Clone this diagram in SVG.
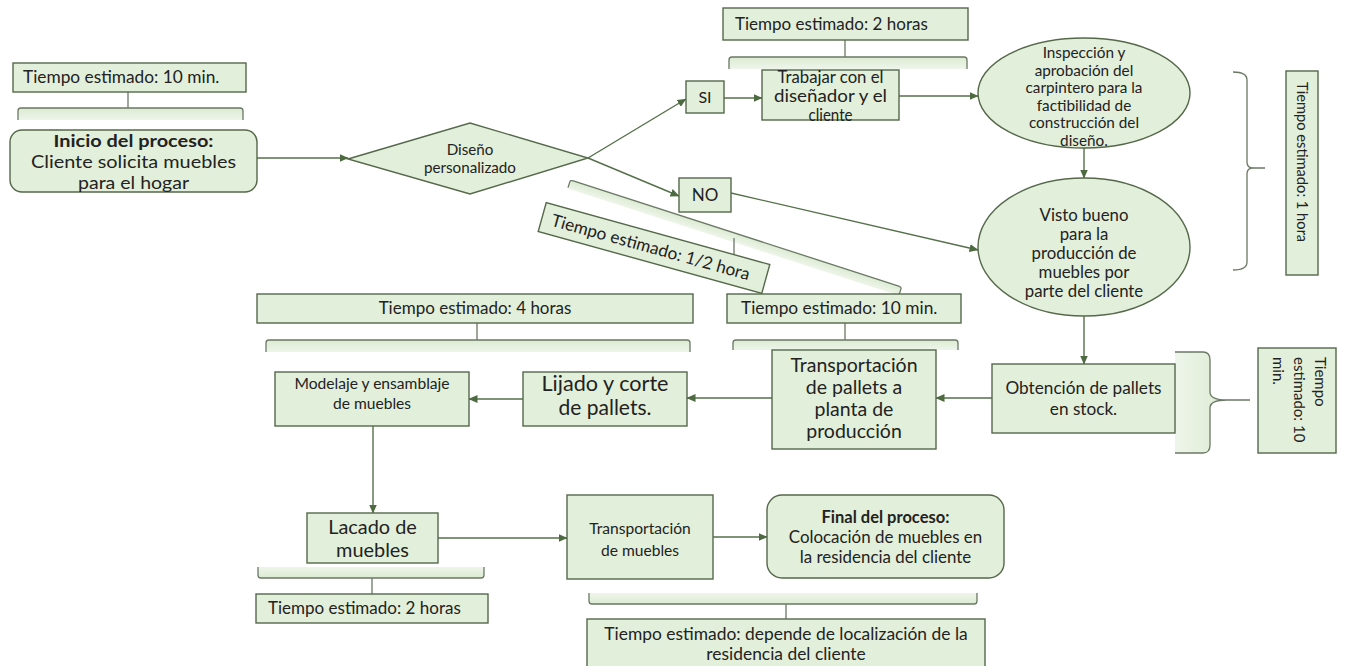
<svg xmlns="http://www.w3.org/2000/svg" width="1347" height="666" viewBox="0 0 1347 666">
<defs>
<marker id="arr" markerWidth="9" markerHeight="8" refX="8.5" refY="4" orient="auto" markerUnits="userSpaceOnUse">
<path d="M0,0 L9,4 L0,8 z" fill="#4e6a40"/>
</marker>
<linearGradient id="gd" x1="0" y1="0" x2="0" y2="1"><stop offset="0" stop-color="#dcebd2"/><stop offset="1" stop-color="#eef5ea"/></linearGradient>
<linearGradient id="gu" x1="0" y1="1" x2="0" y2="0"><stop offset="0" stop-color="#dcebd2"/><stop offset="1" stop-color="#eef5ea"/></linearGradient>
<linearGradient id="gl" x1="1" y1="0" x2="0" y2="0"><stop offset="0" stop-color="#dcebd2"/><stop offset="1" stop-color="#eef5ea"/></linearGradient>
<style>
.box{fill:#e2efda;stroke:#55684a;stroke-width:1.4}
.conn{fill:none;stroke:#55704a;stroke-width:1.4;marker-end:url(#arr)}
.br{fill:none;stroke:#6b7866;stroke-width:1.3}
.t{font-family:Lato,"Open Sans",sans-serif;fill:#222}
.c{text-anchor:middle}
.b{font-weight:bold}
</style>
</defs>

<g id="connectors">
<path class="conn" d="M257,158 L348,158"/>
<path class="conn" d="M588,158 L686,99"/>
<path class="conn" d="M588,158 L679,196"/>
<path class="conn" d="M724,98 L762,98"/>
<path class="conn" d="M899,96 L978,96"/>
<path class="conn" d="M1084,148 L1084,178"/>
<path class="conn" d="M731,193 L978,250"/>
<path class="conn" d="M1084,316 L1084,364"/>
<path class="conn" d="M992,398 L936,398"/>
<path class="conn" d="M772,398 L687,398"/>
<path class="conn" d="M523,399 L469,399"/>
<path class="conn" d="M373,426 L373,513"/>
<path class="conn" d="M438,538 L567,538"/>
<path class="conn" d="M713,537 L767,537"/>
</g>

<g id="brace-start">
<rect x="18" y="108" width="225" height="12" fill="url(#gd)"/>
<path class="br" d="M18,120 L18,111 Q18,108 21,108 L240,108 Q243,108 243,111 L243,120 M128,108 L128,92"/>
</g>
<g id="label-start">
<rect class="box" x="13" y="63" width="233" height="29"/>
<text class="t" x="23" y="83" font-size="17.3">Tiempo estimado: 10 min.</text>
</g>

<g id="brace-2h">
<rect x="729" y="57" width="238" height="12" fill="url(#gd)"/>
<path class="br" d="M729,69 L729,60 Q729,57 732,57 L964,57 Q967,57 967,60 L967,69 M845,57 L845,40"/>
</g>
<g id="label-2h">
<rect class="box" x="723" y="8" width="245" height="32"/>
<text class="t" x="735" y="30" font-size="17">Tiempo estimado: 2 horas</text>
</g>

<g id="brace-1h">
<path class="br" d="M1233,72 Q1247,72 1247,80 L1247,162 Q1247,168 1253,168 L1265,168 M1253,168 Q1247,168 1247,174 L1247,262 Q1247,270 1233,270"/>
</g>
<g id="label-1h">
<rect class="box" x="1286" y="71" width="32" height="204"/>
<text class="t" font-size="14.7" transform="translate(1302,82) rotate(90)" x="0" y="5">Tiempo estimado: 1 hora</text>
</g>

<g id="brace-half">
<g transform="translate(736,233.5) rotate(17.9)">
<rect x="-174" y="0" width="348" height="9" fill="url(#gd)"/>
<path class="br" d="M-174,8 L-174,2 Q-174,0 -171,0 L171,0 Q174,0 174,2 L174,8"/>
</g>
<path class="br" d="M734,238 L734,254"/>
</g>
<g id="label-half">
<g transform="translate(654,248) rotate(15.5)">
<rect class="box" x="-116" y="-15" width="232" height="30"/>
<text class="t" x="-106" y="6" font-size="17.2">Tiempo estimado: 1/2 hora</text>
</g>
</g>

<g id="brace-4h">
<rect x="266" y="340" width="424" height="12" fill="url(#gd)"/>
<path class="br" d="M266,352 L266,343 Q266,340 269,340 L687,340 Q690,340 690,343 L690,352 M477,340 L477,323"/>
</g>
<g id="label-4h">
<rect class="box" x="257" y="294" width="436" height="29"/>
<text class="t c" x="475" y="314" font-size="17">Tiempo estimado: 4 horas</text>
</g>

<g id="brace-10m">
<rect x="733" y="340" width="225" height="10" fill="url(#gd)"/>
<path class="br" d="M733,350 L733,343 Q733,340 736,340 L955,340 Q958,340 958,343 L958,350 M845,340 L845,323"/>
</g>
<g id="label-10m">
<rect class="box" x="727" y="294" width="234" height="29"/>
<text class="t" x="741" y="314" font-size="17.3">Tiempo estimado: 10 min.</text>
</g>

<g id="brace-10m-b">
<path d="M1175,352 L1203,352 Q1210,352 1210,360 L1210,392 Q1210,400 1227,400 Q1210,400 1210,408 L1210,445 Q1210,453 1203,453 L1175,453 Z" fill="url(#gl)"/>
<path class="br" d="M1175,352 L1203,352 Q1210,352 1210,360 L1210,392 Q1210,400 1227,400 L1250,400 M1227,400 Q1210,400 1210,408 L1210,445 Q1210,453 1203,453 L1175,453"/>
</g>
<g id="label-10m-b">
<rect class="box" x="1258" y="348" width="78" height="105"/>
<g transform="translate(1300,357) rotate(90)">
<text class="t" font-size="15" x="0" y="-15">Tiempo</text>
<text class="t" font-size="15" x="0" y="6">estimado: 10</text>
<text class="t" font-size="15" x="0" y="27">min.</text>
</g>
</g>

<g id="brace-lacado">
<rect x="258" y="567" width="226" height="11" fill="url(#gu)"/>
<path class="br" d="M258,567 L258,575 Q258,578 261,578 L481,578 Q484,578 484,575 L484,567 M372,578 L372,594"/>
</g>
<g id="label-lacado">
<rect class="box" x="256" y="594" width="232" height="29"/>
<text class="t" x="268" y="614" font-size="17">Tiempo estimado: 2 horas</text>
</g>

<g id="brace-final">
<rect x="589" y="593" width="388" height="11" fill="url(#gu)"/>
<path class="br" d="M589,593 L589,601 Q589,604 592,604 L974,604 Q977,604 977,601 L977,593 M786,604 L786,619"/>
</g>
<g id="label-final">
<rect class="box" x="587" y="619" width="398" height="50"/>
<text class="t c" x="786" y="640" font-size="17.4">Tiempo estimado: depende de localización de la</text>
<text class="t c" x="786" y="660" font-size="17.4">residencia del cliente</text>
</g>

<g id="n-inicio">
<rect class="box" x="10" y="130" width="247" height="62" rx="12"/>
<text class="t c b" x="133.5" y="147" font-size="17.5" textLength="160" lengthAdjust="spacingAndGlyphs">Inicio del proceso:</text>
<text class="t c" x="133.5" y="168" font-size="18" textLength="205" lengthAdjust="spacingAndGlyphs">Cliente solicita muebles</text>
<text class="t c" x="133.5" y="189" font-size="18" textLength="111" lengthAdjust="spacingAndGlyphs">para el hogar</text>
</g>

<g id="n-diseno">
<polygon class="box" points="348,159 470,123 588,158 470,194"/>
<text class="t c" x="470" y="155" font-size="15.2">Diseño</text>
<text class="t c" x="470" y="173" font-size="15.2">personalizado</text>
</g>

<g id="n-si">
<rect class="box" x="686" y="81" width="38" height="32"/>
<text class="t c" x="705" y="103" font-size="16">SI</text>
</g>

<g id="n-no">
<rect class="box" x="679" y="178" width="52" height="34"/>
<text class="t c" x="705" y="201" font-size="17">NO</text>
</g>

<g id="n-trabajar">
<rect class="box" x="762" y="70" width="137" height="50"/>
<text class="t c" x="830.5" y="83" font-size="16.6" textLength="106" lengthAdjust="spacingAndGlyphs">Trabajar con el</text>
<text class="t c" x="830.5" y="102" font-size="16.6" textLength="113" lengthAdjust="spacingAndGlyphs">diseñador y el</text>
<text class="t c" x="830.5" y="121" font-size="16.6" textLength="44" lengthAdjust="spacingAndGlyphs">cliente</text>
</g>

<g id="n-inspeccion">
<ellipse class="box" cx="1084" cy="93" rx="106" ry="55"/>
<text class="t c" x="1084" y="58" font-size="15.3">Inspección y</text>
<text class="t c" x="1084" y="75.5" font-size="15.3">aprobación del</text>
<text class="t c" x="1084" y="93" font-size="15.3">carpintero para la</text>
<text class="t c" x="1084" y="110.5" font-size="15.3">factibilidad de</text>
<text class="t c" x="1084" y="128" font-size="15.3">construcción del</text>
<text class="t c" x="1084" y="145.5" font-size="15.3">diseño.</text>
</g>

<g id="n-visto">
<ellipse class="box" cx="1084" cy="247" rx="106" ry="69"/>
<text class="t c" x="1084" y="221" font-size="16.8">Visto bueno</text>
<text class="t c" x="1084" y="240" font-size="16.8">para la</text>
<text class="t c" x="1084" y="259" font-size="16.8">producción de</text>
<text class="t c" x="1084" y="278" font-size="16.8">muebles por</text>
<text class="t c" x="1084" y="297" font-size="16.8">parte del cliente</text>
</g>

<g id="n-obtencion">
<rect class="box" x="992" y="364" width="183" height="69"/>
<text class="t c" x="1083.5" y="394" font-size="17.2">Obtención de pallets</text>
<text class="t c" x="1083.5" y="415" font-size="17.2">en stock.</text>
</g>

<g id="n-transp-pallets">
<rect class="box" x="772" y="350" width="164" height="99"/>
<text class="t c" x="854" y="372" font-size="19.5">Transportación</text>
<text class="t c" x="854" y="394" font-size="19.5">de pallets a</text>
<text class="t c" x="854" y="416" font-size="19.5">planta de</text>
<text class="t c" x="854" y="438" font-size="19.5">producción</text>
</g>

<g id="n-lijado">
<rect class="box" x="523" y="372" width="164" height="54"/>
<text class="t c" x="605" y="391" font-size="21" textLength="127" lengthAdjust="spacingAndGlyphs">Lijado y corte</text>
<text class="t c" x="605" y="415" font-size="21">de pallets.</text>
</g>

<g id="n-modelaje">
<rect class="box" x="275" y="372" width="194" height="54"/>
<text class="t c" x="372" y="389" font-size="15.6">Modelaje y ensamblaje</text>
<text class="t c" x="372" y="409" font-size="15.6">de muebles</text>
</g>

<g id="n-lacado">
<rect class="box" x="307" y="513" width="131" height="50"/>
<text class="t c" x="372.5" y="534" font-size="19.9">Lacado de</text>
<text class="t c" x="372.5" y="557" font-size="19.9">muebles</text>
</g>

<g id="n-transp-muebles">
<rect class="box" x="567" y="495" width="146" height="84"/>
<text class="t c" x="640" y="534" font-size="15.6">Transportación</text>
<text class="t c" x="640" y="556" font-size="15.6">de muebles</text>
</g>

<g id="n-final">
<rect class="box" x="767" y="495" width="237" height="83" rx="15"/>
<text class="t c b" x="885.5" y="523" font-size="16.5">Final del proceso:</text>
<text class="t c" x="885.5" y="543" font-size="16.9">Colocación de muebles en</text>
<text class="t c" x="885.5" y="563" font-size="16.9">la residencia del cliente</text>
</g>
</svg>
